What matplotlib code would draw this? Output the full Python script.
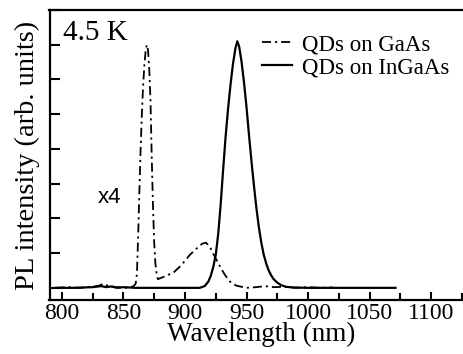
import matplotlib
matplotlib.use("Agg")
import matplotlib.pyplot as plt
from matplotlib.ticker import MultipleLocator, NullFormatter

# QDs on GaAs (dash-dot)
gaas_wl = [795, 805, 815, 825, 830, 834, 838, 845, 852, 858, 860, 861, 862, 863, 864, 865,
           866, 867, 868, 869, 870, 871, 872, 873, 874, 875, 876, 877, 878, 885, 891, 897,
           904, 910, 914, 917, 920, 923, 926, 929, 932, 935, 938, 942, 946, 950, 958, 965,
           972, 980, 990, 1000, 1010, 1020]
gaas_pl = [0.0, 0.02, 0.0, 0.03, 0.06, 0.12, 0.05, 0.02, 0.0, 0.04, 0.12, 0.4, 1.5, 2.8, 4.0, 5.0,
           5.8, 6.4, 6.8, 7.0, 6.85, 6.3, 5.4, 3.8, 2.4, 1.3, 0.7, 0.4, 0.25, 0.35, 0.45, 0.65,
           0.95, 1.15, 1.27, 1.3, 1.2, 0.98, 0.78, 0.58, 0.4, 0.24, 0.13, 0.06, 0.03, 0.0, 0.02, 0.05,
           0.02, 0.03, 0.0, 0.02, 0.0, 0.01]

# QDs on InGaAs (solid)
ingaas_wl = [795, 810, 825, 832, 836, 840, 845, 850, 860, 880, 900, 912, 916, 919, 921, 923,
             925, 927, 929, 931, 933, 935, 937, 939, 941, 942.5, 944, 946, 948, 950, 952, 954,
             956, 958, 960, 962, 964, 966, 968, 970, 972, 975, 978, 982, 988, 1000, 1030, 1071]
ingaas_pl = [0.0, 0.0, 0.02, 0.05, 0.02, 0.04, 0.0, 0.02, 0.0, 0.0, 0.0, 0.0, 0.05, 0.18, 0.35, 0.6,
             0.95, 1.55, 2.4, 3.4, 4.35, 5.15, 5.85, 6.45, 6.9, 7.1, 6.95, 6.5, 5.9, 5.2, 4.4, 3.65,
             2.95, 2.3, 1.75, 1.3, 0.95, 0.7, 0.5, 0.36, 0.25, 0.15, 0.08, 0.03, 0.01, 0.0, 0.0, 0.0]

series_labels = ["QDs on GaAs", "QDs on InGaAs"]
x_label = "Wavelength (nm)"
y_label = "PL intensity (arb. units)"
temp_text = "4.5 K"
scale_text = "x4"

serif = ["Liberation Serif", "DejaVu Serif"]

fig = plt.figure(figsize=(4.63, 3.54), dpi=100)
W, H = 463, 354
left, right_px, top, bottom = 49.5, 480.5, 10, 300
ax = fig.add_axes([left / W, 1 - bottom / H, (right_px - left) / W, (bottom - top) / H])

ax.plot(gaas_wl, gaas_pl, color="black", lw=1.3, linestyle=(0, (5, 2.2, 1.2, 2.2)),
        label=series_labels[0])
ax.plot(ingaas_wl, ingaas_pl, color="black", lw=1.6, linestyle="-", label=series_labels[1])

ax.set_xlim(790, 1140)
ax.set_ylim(-0.35, 8.0)
ax.xaxis.set_major_locator(MultipleLocator(50))
ax.xaxis.set_minor_locator(MultipleLocator(25))
ax.yaxis.set_major_locator(MultipleLocator(1))
ax.yaxis.set_major_formatter(NullFormatter())
ax.tick_params(axis="both", which="both", direction="in", width=1.5, top=False, right=False)
ax.tick_params(axis="x", which="major", length=6, pad=2, labelsize=17)
ax.tick_params(axis="x", which="minor", length=5)
ax.tick_params(axis="y", which="major", length=7)
for lab in ax.get_xticklabels():
    lab.set_family(serif)
for s in ax.spines.values():
    s.set_linewidth(1.6)

ax.set_xlabel(x_label, family=serif, fontsize=19.5, labelpad=0)
ax.xaxis.set_label_coords(0.49, -0.075)
ax.set_ylabel(y_label, family=serif, fontsize=20.5, labelpad=3)

fig.text(63 / W, 1 - 33 / H, temp_text, family=serif, fontsize=21, va="center", ha="left")
fig.text(98 / W, 1 - 198 / H, scale_text, family=["Liberation Sans", "DejaVu Sans"],
         fontsize=16, va="center", ha="left")

leg = ax.legend(loc="upper left", bbox_to_anchor=(262 / W, 1 - 34 / H),
                bbox_transform=fig.transFigure, frameon=False, borderpad=0, borderaxespad=0,
                handlelength=1.3, handletextpad=0.45, labelspacing=0.1,
                prop={"family": serif, "size": 16.5})

fig.savefig("out.png", dpi=100)
